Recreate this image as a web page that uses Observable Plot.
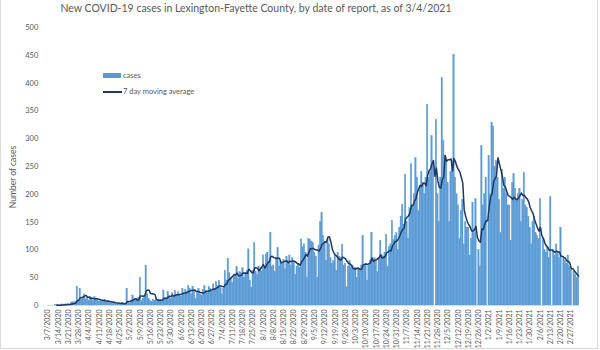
<!DOCTYPE html>
<html><head><meta charset="utf-8">
<script src="https://cdn.jsdelivr.net/npm/d3@7"></script>
<script src="https://cdn.jsdelivr.net/npm/@observablehq/plot@0.6"></script>
<style>
body{margin:0;background:#fff;}
#wrap{position:relative;width:600px;height:350px;overflow:hidden;font-family:Lato,"Liberation Sans",sans-serif;color:#595959;}
#frame{position:absolute;left:0;top:-1px;width:598px;height:350px;border:1px solid #d9d9d9;box-sizing:border-box;pointer-events:none}
#title{position:absolute;left:0;width:512px;top:2px;text-align:center;font-size:10.5px;white-space:nowrap}
#ylab{position:absolute;left:12.5px;top:177px;transform:translate(-50%,-50%) rotate(-90deg);font-size:8.5px;white-space:nowrap}
.lg{position:absolute;font-size:7.5px;white-space:nowrap;line-height:1}
.sw{position:absolute}
#chart{position:absolute;left:0;top:0}
</style></head>
<body>
<div id="wrap">
  <div id="chart"></div>
  <div id="title">New COVID-19 cases in Lexington-Fayette County, by date of report, as of 3/4/2021</div>
  <div id="ylab">Number of cases</div>
  <div class="sw" style="left:103px;top:73px;width:18px;height:5px;background:#5B9BD5"></div>
  <div class="lg" style="left:123px;top:72px">cases</div>
  <div class="sw" style="left:103px;top:91px;width:19px;height:2px;background:#203864"></div>
  <div class="lg" style="left:123px;top:88px">7 day moving average</div>
  <div id="frame"></div>
</div>
<script>
// daily new cases, 3/7/2020 .. 3/4/2021 (weekly rows, starting Saturdays)
const cases = [
  0,0,0,0,0,1,1,
  1,0,1,2,1,2,2,
  3,2,5,6,5,7,34,
  8,30,10,12,20,11,13,
  9,16,12,8,15,11,10,
  6,9,8,7,10,6,8,
  4,5,3,6,4,3,5,
  2,3,4,2,3,30,6,
  3,8,18,10,12,9,14,
  50,8,12,18,72,20,12,
  8,6,10,9,12,8,11,
  10,8,27,14,12,25,18,
  12,22,15,26,18,24,20,
  16,30,22,28,24,35,30,
  20,34,25,12,22,30,20,
  18,28,35,26,22,33,30,
  25,38,30,42,35,44,32,
  20,30,62,45,84,58,50,
  40,52,55,69,48,60,58,
  67,50,58,62,101,45,32,
  62,112,60,55,70,68,62,
  90,65,92,95,78,131,70,
  72,60,85,103,70,78,75,
  82,65,88,80,90,72,85,
  78,55,70,75,68,119,105,
  110,95,50,120,118,115,112,
  95,88,50,108,150,167,125,
  115,80,118,110,85,75,80,
  90,62,95,88,85,109,72,
  75,33,70,80,68,72,65,
  68,50,65,66,72,125,70,
  75,45,72,80,131,82,85,
  80,60,85,116,90,88,95,
  127,70,105,110,152,118,125,
  130,100,140,160,181,145,235,
  150,120,175,254,180,200,265,
  230,170,215,240,220,200,230,
  361,230,240,305,260,0,334,
  200,150,230,409,296,270,260,
  220,150,240,260,451,230,200,
  180,120,170,190,110,150,140,
  140,90,120,185,130,191,0,
  100,70,287,180,200,230,0,
  269,200,329,322,250,260,230,
  190,130,244,210,230,200,180,
  180,116,220,236,210,190,200,
  210,150,190,238,180,175,160,
  140,110,150,160,130,125,120,
  191,0,120,100,95,105,85,
  195,0,100,90,110,95,85,
  140,0,85,80,75,90,70,
  65,0,60,55,50,70
];
const yTicks = [0,50,100,150,200,250,300,350,400,450,500];
const seriesNames = ["cases","7 day moving average"];

const fmt = d3.utcFormat("%-m/%-d/%Y");
const dateLabels = d3.utcDay.range(new Date(Date.UTC(2020,2,7)), new Date(Date.UTC(2021,2,5))).map(fmt);
const tickLabels = dateLabels.filter((d,i)=>i%7===0);
const data = dateLabels.map((d,i)=>({date:d, cases:cases[i]}));

const chart = Plot.plot({
  width:600, height:350,
  marginLeft:46.8, marginRight:21.2, marginTop:27, marginBottom:45,
  style:{fontFamily:'Lato,"Liberation Sans",sans-serif', fontSize:"7px", color:"#595959", background:"transparent"},
  x:{type:"band", domain:dateLabels, paddingInner:0, paddingOuter:0, axis:null},
  y:{domain:[0,500], axis:null},
  marks:[
    Plot.barY(data,{x:"date", y:"cases", fill:"#5B9BD5", stroke:"#5B9BD5", strokeWidth:0.35, inset:0}),
    Plot.ruleY([0],{stroke:"#d9d9d9"}),
    Plot.lineY(data, Plot.windowY({k:7, anchor:"end", strict:true}, {x:"date", y:"cases", stroke:"#203864", strokeWidth:1.5})),
    Plot.axisX({ticks:tickLabels, tickRotate:-90, tickSize:0, tickPadding:4, fontSize:7, label:null, fill:"#595959"}),
    Plot.axisY({ticks:yTicks, tickSize:0, tickPadding:9, label:null, fontSize:7.5, fill:"#595959"})
  ]
});
document.getElementById("chart").append(chart);
</script>
</body></html>
